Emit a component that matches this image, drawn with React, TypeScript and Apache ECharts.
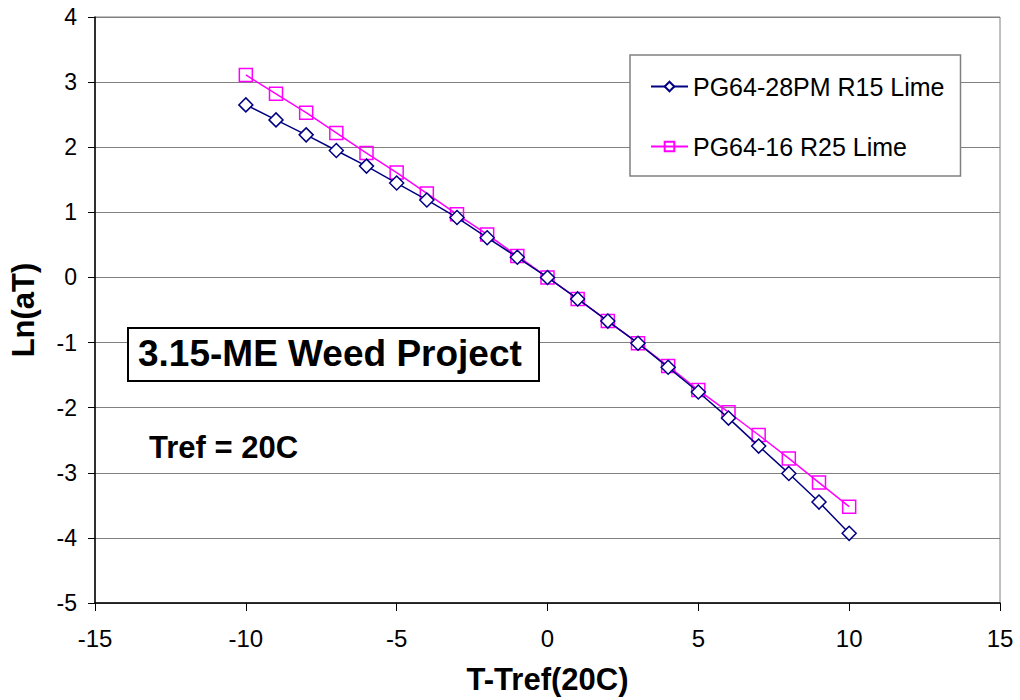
import React, { useEffect, useRef } from "react";
import * as echarts from "echarts";

const xValues = [-10, -9, -8, -7, -6, -5, -4, -3, -2, -1, 0, 1, 2, 3, 4, 5, 6, 7, 8, 9, 10];
const seriesNames = ["PG64-28PM R15 Lime", "PG64-16 R25 Lime"];
const pg6428Values = [2.65, 2.42, 2.19, 1.95, 1.71, 1.45, 1.19, 0.92, 0.61, 0.31, 0, -0.33, -0.67, -1.01, -1.38, -1.76, -2.16, -2.59, -3.01, -3.45, -3.93];
const pg6416Values = [3.11, 2.82, 2.53, 2.22, 1.91, 1.61, 1.29, 0.97, 0.66, 0.33, 0, -0.33, -0.67, -1.01, -1.36, -1.73, -2.07, -2.42, -2.78, -3.15, -3.52];
const xAxisTitle = "T-Tref(20C)";
const yAxisTitle = "Ln(aT)";
const boxTitle = "3.15-ME Weed Project";
const noteText = "Tref = 20C";

const FONT = "Liberation Sans, Arial, sans-serif";

export default function App() {
  const ref = useRef<HTMLDivElement>(null);
  useEffect(() => {
    if (!ref.current) return;
    const chart = echarts.init(ref.current, undefined, { renderer: "svg" });
    const pair = (vals: number[]) => xValues.map((x, i) => [x, vals[i]]);
    chart.setOption({
      animation: false,
      backgroundColor: "#ffffff",
      textStyle: { fontFamily: FONT },
      grid: {
        left: 94,
        top: 17,
        right: 20,
        bottom: 95,
        show: true,
        borderColor: "#808080",
        borderWidth: 1,
        backgroundColor: "#ffffff",
      },
      xAxis: {
        type: "value",
        min: -15,
        max: 15,
        interval: 5,
        name: xAxisTitle,
        nameLocation: "middle",
        nameGap: 61,
        nameTextStyle: { fontSize: 31, fontWeight: "bold", color: "#000", fontFamily: FONT },
        axisLine: { show: true, onZero: false, lineStyle: { color: "#000", width: 1.5 } },
        axisTick: { show: true, length: 8, lineStyle: { color: "#000" } },
        axisLabel: { fontSize: 24, color: "#000", margin: 23, fontFamily: FONT },
        splitLine: { show: false },
      },
      yAxis: {
        type: "value",
        min: -5,
        max: 4,
        interval: 1,
        name: yAxisTitle,
        nameLocation: "middle",
        nameGap: 56,
        nameRotate: 90,
        nameTextStyle: { fontSize: 31, fontWeight: "bold", color: "#000", fontFamily: FONT },
        axisLine: { show: true, onZero: false, lineStyle: { color: "#000", width: 1.5 } },
        axisTick: { show: true, length: 7, lineStyle: { color: "#000" } },
        axisLabel: { fontSize: 23, color: "#000", margin: 18, fontFamily: FONT },
        splitLine: { show: true, lineStyle: { color: "#808080", width: 1.2 } },
      },
      legend: {
        orient: "vertical",
        left: 630,
        top: 55,
        padding: [19, 16, 17, 20],
        itemGap: 35,
        itemWidth: 37,
        itemHeight: 12,
        backgroundColor: "#ffffff",
        borderColor: "#808080",
        borderWidth: 1.5,
        textStyle: { fontSize: 25, color: "#000", fontFamily: FONT },
        data: seriesNames,
      },
      series: [
        {
          name: seriesNames[0],
          type: "line",
          data: pair(pg6428Values),
          symbol: "diamond",
          symbolSize: [14, 14],
          itemStyle: { color: "#ffffff", borderColor: "#000080", borderWidth: 1.5 },
          lineStyle: { color: "#000080", width: 1.5 },
          z: 3,
        },
        {
          name: seriesNames[1],
          type: "line",
          data: pair(pg6416Values),
          symbol: "rect",
          symbolSize: [13, 13],
          itemStyle: { color: "rgba(255,255,255,0)", borderColor: "#ff00ff", borderWidth: 1.5 },
          lineStyle: { color: "#ff00ff", width: 1.5 },
          z: 2,
        },
      ],
      graphic: [
        {
          type: "rect",
          left: 127,
          top: 327,
          shape: { width: 411, height: 53 },
          style: { fill: "#ffffff", stroke: "#000", lineWidth: 2 },
          z: 10,
        },
        {
          type: "text",
          x: 138,
          y: 353,
          style: { text: boxTitle, font: `bold 37px ${FONT}`, fill: "#000", verticalAlign: "middle" },
          z: 11,
        },
        {
          type: "text",
          x: 149,
          y: 447,
          style: { text: noteText, font: `bold 31px ${FONT}`, fill: "#000", verticalAlign: "middle" },
          z: 11,
        },
      ],
    });
    return () => chart.dispose();
  }, []);
  return (
    <div
      ref={ref}
      style={{ position: "absolute", left: 0, top: 0, width: 1020, height: 700 }}
    />
  );
}
